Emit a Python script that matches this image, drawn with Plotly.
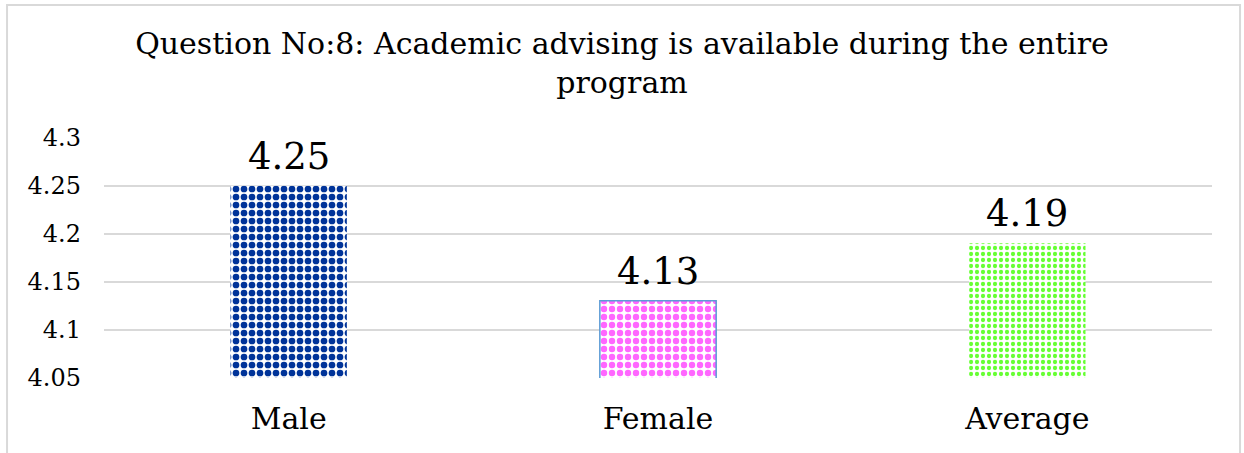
import plotly.graph_objects as go

categories = ["Male", "Female", "Average"]
values = [4.25, 4.13, 4.19]
value_labels = ["4.25", "4.13", "4.19"]
tick_vals = [4.05, 4.1, 4.15, 4.2, 4.25, 4.3]
tick_text = ["4.05", "4.1", "4.15", "4.2", "4.25", "4.3"]

fg_colors = ["#003399", "#FF66FF", "#66FF33"]
pattern_sizes = [8, 8, 6]
pattern_solid = [0.55, 0.5, 0.4]
line_colors = ["rgba(0,0,0,0)", "#5B9BD5", "rgba(0,0,0,0)"]
line_widths = [0, 1.5, 0]

FONT = "DejaVu Serif"

fig = go.Figure()
fig.add_trace(go.Bar(
    x=categories,
    y=values,
    cliponaxis=False,
    hoverinfo="skip",
    marker=dict(
        color="#FFFFFF",
        line=dict(color=line_colors, width=line_widths),
        pattern=dict(
            shape=".",
            fgcolor=fg_colors,
            bgcolor="#FFFFFF",
            fgopacity=1,
            size=pattern_sizes,
            solidity=pattern_solid,
            fillmode="overlay",
        ),
    ),
    width=0.315,
))

annotations = [
    dict(
        x=c, y=v, xref="x", yref="y", text=t, showarrow=False,
        xanchor="center", yanchor="bottom", yshift=6,
        font=dict(family=FONT, size=37, color="#000000"),
    )
    for c, v, t in zip(categories, values, value_labels)
]

fig.update_layout(
    width=1244,
    height=453,
    margin=dict(l=104, r=32, t=137, b=75),
    paper_bgcolor="#FFFFFF",
    plot_bgcolor="#FFFFFF",
    showlegend=False,
    annotations=annotations,
    title=dict(
        text="Question No:8: Academic advising is available during the entire<br>program",
        x=0.5,
        xanchor="center",
        y=0.88,
        yanchor="top",
        font=dict(family=FONT, size=30, color="#000000"),
    ),
    xaxis=dict(
        showgrid=False,
        showline=False,
        zeroline=False,
        tickfont=dict(family=FONT, size=30, color="#000000"),
        ticks="",
        ticklabelstandoff=20,
    ),
    yaxis=dict(
        range=[4.0495, 4.3008],
        tickvals=tick_vals,
        ticktext=tick_text,
        showgrid=True,
        gridcolor="#D9D9D9",
        gridwidth=1.5,
        zeroline=False,
        showline=False,
        ticks="",
        tickfont=dict(family=FONT, size=24, color="#000000"),
        ticklabelstandoff=22,
    ),
    shapes=[
        dict(
            type="rect", xref="paper", yref="paper",
            x0=-0.0875, x1=1.0253, y0=-0.6, y1=1.548,
            line=dict(color="#D9D9D9", width=2),
            fillcolor="rgba(0,0,0,0)", layer="below",
        )
    ],
)

fig.write_html(
    "out.html",
    config={"displayModeBar": False},
    post_script="document.body.style.margin='0';document.body.style.overflow='hidden';",
)
